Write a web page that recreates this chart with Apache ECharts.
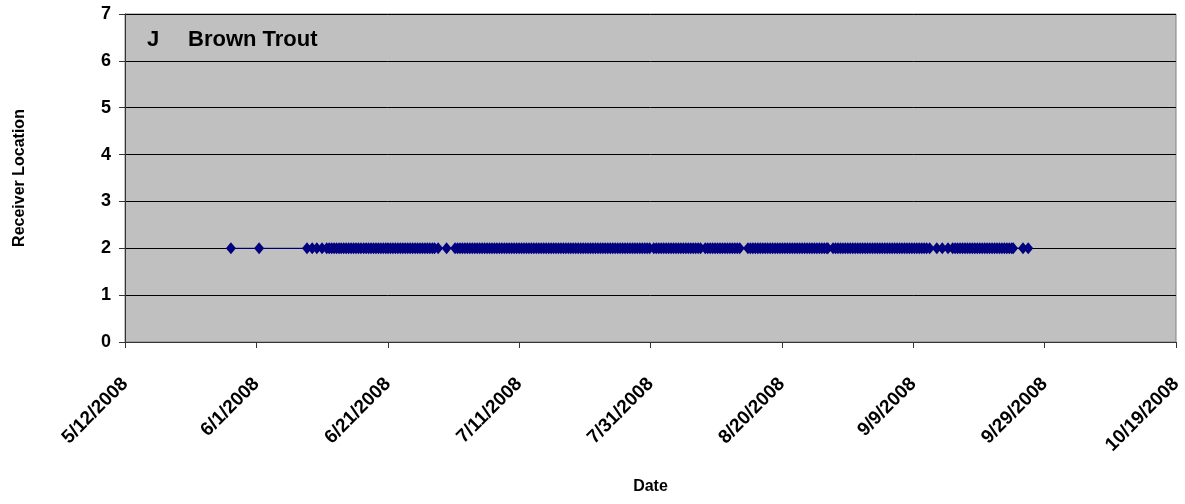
<!DOCTYPE html>
<html>
<head>
<meta charset="utf-8">
<style>
  html, body { margin: 0; padding: 0; background: #fff; }
  #chart { width: 1185px; height: 504px; }
</style>
<script src="https://cdn.jsdelivr.net/npm/echarts@6/dist/echarts.min.js"></script>
</head>
<body>
<div id="chart"></div>
<script>
// Receiver detections for brown trout "J", 2008 season.
// Each entry: "month/day" followed by the hours of the detections that day.
const detections = [
  "5/28 3", "6/1 10", "6/8 17", "6/9 12", "6/10 5", "6/11 0 17",
  "6/12 2 11 20", "6/13 5 14 22", "6/14 7 16", "6/15 1 10 19", "6/16 4 13 22",
  "6/17 8 17", "6/18 2 11 20", "6/19 5 14 23", "6/20 8 17", "6/21 1 10 19",
  "6/22 4 13 22", "6/23 7 16", "6/24 1 10 19", "6/25 4 13 22", "6/26 7 16",
  "6/27 1 10 19", "6/28 3 16", "6/29 23",
  "7/1 6 15", "7/2 0 9 18", "7/3 3 12 21", "7/4 6 15", "7/5 0 9 18",
  "7/6 3 12 21", "7/7 6 15", "7/8 0 9 18", "7/9 3 12 21", "7/10 6 15",
  "7/11 0 9 18", "7/12 3 12 21", "7/13 6 15", "7/14 0 9 18", "7/15 3 12 21",
  "7/16 6 15", "7/17 0 9 18", "7/18 3 12 21", "7/19 6 15", "7/20 0 9 18",
  "7/21 3 12 21", "7/22 6 15", "7/23 0 9 18", "7/24 3 12 21", "7/25 6 15",
  "7/26 0 9 18", "7/27 3 12 21", "7/28 6 15", "7/29 0 9 18", "7/30 3 12 21",
  "7/31 12 21", "8/1 6 15", "8/2 0 9 18", "8/3 3 12 21", "8/4 6 15",
  "8/5 0 9 18", "8/6 3 12 21", "8/7 6 15", "8/8 8 17", "8/9 2 11 20",
  "8/10 5 14 23", "8/11 8 17", "8/12 2 11 20", "8/13 5 14",
  "8/14 20", "8/15 5 14 23", "8/16 8 17", "8/17 2 11 20", "8/18 5 14 23",
  "8/19 8 17", "8/20 2 11 20", "8/21 5 14 23", "8/22 8 17", "8/23 2 11 20",
  "8/24 5 14 23", "8/25 8 17", "8/26 2 11 20", "8/27 0 19",
  "8/28 4 13 22", "8/29 7 16", "8/30 1 10 19", "8/31 4 13 22", "9/1 7 16",
  "9/2 1 10 19", "9/3 4 13 22", "9/4 7 16", "9/5 1 10 19", "9/6 4 13 22",
  "9/7 7 16", "9/8 1 10 19", "9/9 4 13 22", "9/10 7 16", "9/11 1 12",
  "9/12 14", "9/13 10", "9/14 7",
  "9/15 0 9 18", "9/16 3 12 21", "9/17 6 15", "9/18 0 9 18", "9/19 3 12 21",
  "9/20 6 15", "9/21 0 9 18", "9/22 3 12 21", "9/23 6 15", "9/24 0 5",
  "9/25 17", "9/26 12"
];
const receiverLocation = 2;
const year = 2008;

// Axis range as spreadsheet serial day numbers (5/12/2008 .. 10/19/2008, 20-day steps)
const xMin = 39580;
const xMax = 39740;
const xStep = 20;
const yMin = 0, yMax = 7, yStep = 1;

const DAY_MS = 86400000;
const SERIAL_EPOCH = Date.UTC(1899, 11, 30);
function toSerial(y, m, d) {
  return (Date.UTC(y, m - 1, d) - SERIAL_EPOCH) / DAY_MS;
}
function serialLabel(v) {
  const dt = new Date(SERIAL_EPOCH + Math.round(v) * DAY_MS);
  return (dt.getUTCMonth() + 1) + '/' + dt.getUTCDate() + '/' + dt.getUTCFullYear();
}

const points = [];
detections.forEach(row => {
  const parts = row.split(' ');
  const [m, d] = parts[0].split('/').map(Number);
  parts.slice(1).forEach(h => {
    points.push([toSerial(year, m, d) + Number(h) / 24, receiverLocation]);
  });
});

const FONT = "'Liberation Sans', Arial, sans-serif";
const chart = echarts.init(document.getElementById('chart'), null, { renderer: 'canvas' });
chart.setOption({
  animation: false,
  backgroundColor: '#ffffff',
  grid: {
    left: 125, right: 9, top: 14, bottom: 162,
    show: true, backgroundColor: '#c0c0c0', borderColor: '#808080', borderWidth: 1
  },
  graphic: [
    { type: 'text', left: 147, top: 29, style: { text: 'J', font: 'bold 22px ' + FONT, fill: '#000' } },
    { type: 'text', left: 188, top: 29, style: { text: 'Brown Trout', font: 'bold 22px ' + FONT, fill: '#000' } }
  ],
  xAxis: {
    type: 'value', min: xMin, max: xMax, interval: xStep,
    name: 'Date', nameLocation: 'middle', nameGap: 137,
    nameTextStyle: { fontFamily: FONT, fontWeight: 'bold', fontSize: 16, color: '#000' },
    axisLine: { show: true, lineStyle: { color: '#333', width: 1 } },
    axisTick: { show: true, length: 6, lineStyle: { color: '#333' } },
    splitLine: { show: false },
    axisLabel: {
      rotate: 45, margin: 39, fontFamily: FONT, fontWeight: 'bold', fontSize: 19, color: '#000',
      formatter: serialLabel
    }
  },
  yAxis: {
    type: 'value', min: yMin, max: yMax, interval: yStep,
    name: 'Receiver Location', nameLocation: 'middle', nameGap: 97, nameRotate: 90,
    nameTextStyle: { fontFamily: FONT, fontWeight: 'bold', fontSize: 16, color: '#000' },
    axisLine: { show: true, lineStyle: { color: '#333', width: 1 } },
    axisTick: { show: true, length: 6, lineStyle: { color: '#333' } },
    splitLine: { show: true, lineStyle: { color: '#000', width: 1 } },
    axisLabel: { margin: 14, fontFamily: FONT, fontWeight: 'bold', fontSize: 18, color: '#000' }
  },
  series: [{
    type: 'line',
    data: points,
    symbol: 'diamond',
    symbolSize: [10, 12],
    showSymbol: true,
    lineStyle: { color: '#000080', width: 1 },
    itemStyle: { color: '#000080' },
    emphasis: { disabled: true }
  }]
});
</script>
</body>
</html>
